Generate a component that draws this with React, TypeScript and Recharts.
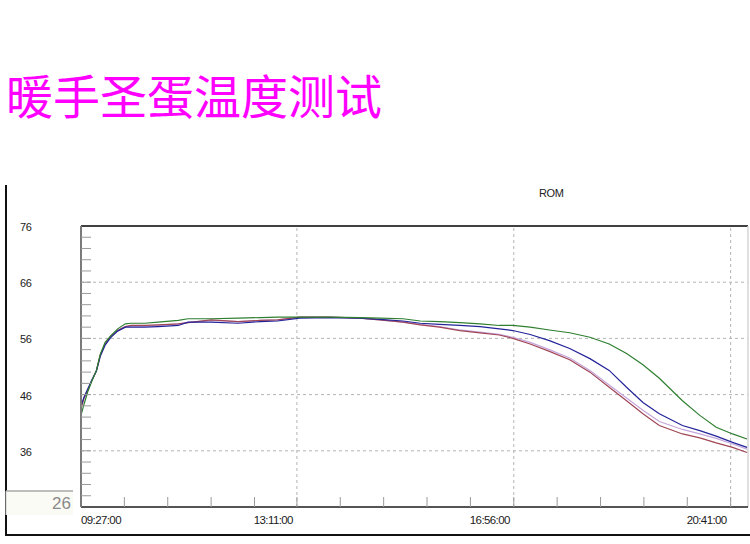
import React from "react";
import { LineChart, Line, XAxis, YAxis, ReferenceLine } from "recharts";

// time in minutes since midnight (09:27 = 567)
const timeMinutes = [567, 570, 574, 578, 583, 587, 592, 598, 605, 613, 619, 633, 647, 668, 678, 702, 730, 753, 771, 794, 825, 856, 877, 901, 919, 939, 960, 981, 1001, 1015, 1033, 1053, 1074, 1095, 1115, 1133, 1150, 1167, 1191, 1209, 1226, 1243, 1258];
const greenSeries = [42.3, 44.2, 46.5, 48.3, 50.3, 53.2, 55.3, 56.5, 57.7, 58.6, 58.7, 58.7, 58.9, 59.2, 59.5, 59.5, 59.6, 59.7, 59.8, 59.8, 59.8, 59.7, 59.6, 59.5, 59.1, 59.0, 58.8, 58.6, 58.3, 58.3, 58.0, 57.5, 57.0, 56.2, 55.0, 53.3, 51.3, 48.9, 44.9, 42.3, 40.2, 39.0, 38.1];
const blueSeries = [44.0, 45.5, 47.0, 48.5, 50.2, 52.8, 54.8, 56.2, 57.3, 58.0, 58.0, 58.0, 58.1, 58.3, 58.9, 58.9, 58.7, 59.0, 59.1, 59.6, 59.7, 59.6, 59.4, 59.1, 58.7, 58.5, 58.3, 58.1, 57.7, 57.4, 56.7, 55.6, 54.2, 52.4, 50.3, 47.3, 44.6, 42.6, 40.5, 39.6, 38.6, 37.5, 36.6];
const redSeries = [43.5, 45.3, 46.8, 48.4, 50.3, 53.0, 55.0, 56.4, 57.4, 58.1, 58.3, 58.3, 58.4, 58.6, 58.8, 59.3, 59.0, 59.2, 59.3, 59.8, 59.8, 59.6, 59.3, 58.9, 58.4, 58.0, 57.4, 57.0, 56.6, 56.0, 55.0, 53.7, 52.2, 50.0, 47.3, 44.9, 42.6, 40.5, 39.0, 38.3, 37.4, 36.6, 35.7];
const lavenderSeries = [43.6, 45.3, 46.8, 48.4, 50.3, 53.0, 55.0, 56.4, 57.4, 58.1, 58.2, 58.2, 58.3, 58.6, 58.8, 59.2, 59.0, 59.2, 59.3, 59.8, 59.8, 59.6, 59.3, 58.9, 58.5, 58.1, 57.5, 57.1, 56.7, 56.2, 55.3, 54.0, 52.5, 50.3, 47.7, 45.4, 43.2, 41.2, 39.8, 39.0, 38.2, 37.2, 36.3];

const majorTicks = [567, 791, 1016, 1241];
const majorLabels = ["09:27:00", "13:11:00", "16:56:00", "20:41:00"];
const minorTicks = [612, 657, 702, 747, 836, 881, 926, 971, 1061, 1106, 1151, 1196];
const yLabelTicks = [76, 66, 56, 46, 36, 26];
const yMinorTicks = [28, 30, 32, 34, 38, 40, 42, 44, 48, 50, 52, 54, 58, 60, 62, 64, 68, 70, 72, 74];
const yGridValues = [66, 56, 46, 36];
const xGridValues = [791, 1016, 1241];
const xDomain = [567, 1259];
const yDomain = [26, 76];

const data = timeMinutes.map((t, i) => ({
  t,
  green: greenSeries[i],
  blue: blueSeries[i],
  red: redSeries[i],
  lavender: lavenderSeries[i],
}));

const allXTicks = [...majorTicks, ...minorTicks].sort((a, b) => a - b);
const allYTicks = [...yLabelTicks, ...yMinorTicks].sort((a, b) => a - b);

const FONT = "'Liberation Sans', Arial, sans-serif";

const XTick = (props: any) => {
  const { x, y, payload } = props;
  const v = payload.value;
  const mi = majorTicks.indexOf(v);
  return (
    <g>
      {mi !== 0 && <line x1={x} y1={y} x2={x} y2={y - 10} stroke="#9a9a9a" strokeWidth={1} />}
      {mi >= 0 && (
        <text
          x={mi === 0 ? x : x - 4}
          y={y + 14}
          textAnchor={mi === 0 ? "start" : "end"}
          dominantBaseline="middle"
          fontFamily={FONT}
          fontSize={11.5}
          letterSpacing={-0.6}
          fill="#1a1a1a"
        >
          {majorLabels[mi]}
        </text>
      )}
    </g>
  );
};

const YTick = (props: any) => {
  const { x, y, payload } = props;
  const v = payload.value;
  const isLabel = yLabelTicks.includes(v);
  if (v === 26) {
    return (
      <g>
        <rect x={x - 75} y={y - 16} width={67} height={24} fill="#fbfbf6" stroke="none" />
        <line x1={x - 75} y1={y - 16} x2={x - 8} y2={y - 16} stroke="#a8a8a8" strokeWidth={1.5} />
        <line x1={x - 75} y1={y - 16} x2={x - 75} y2={y + 8} stroke="#c8c8c8" strokeWidth={1} />
        <text x={x - 10} y={y - 2} textAnchor="end" dominantBaseline="middle" fontFamily={FONT} fontSize={17} fill="#8a8a8a">
          26
        </text>
      </g>
    );
  }
  return (
    <g>
      {!yGridValues.includes(v) && v !== 76 && (
        <line x1={x} y1={y} x2={x + 10} y2={y} stroke="#9a9a9a" strokeWidth={1} />
      )}
      {yGridValues.includes(v) && <line x1={x} y1={y} x2={x + 10} y2={y} stroke="#9a9a9a" strokeWidth={1} />}
      {isLabel && (
        <text x={x - 61} y={y + 2} textAnchor="start" dominantBaseline="middle" fontFamily={FONT} fontSize={11} letterSpacing={-0.4} fill="#222">
          {v}
        </text>
      )}
    </g>
  );
};

export default function App() {
  return (
    <div style={{ position: "absolute", left: 0, top: 0, width: 750, height: 544, background: "#fff", overflow: "hidden" }}>
      <svg width={750} height={544} style={{ position: "absolute", left: 0, top: 0 }}>
        <text x={6} y={114} fontFamily="'Noto Sans CJK SC', sans-serif" fontSize={47} fill="#ff00ff">
          暖手圣蛋温度测试
        </text>
        <text x={539} y={194} dominantBaseline="middle" fontFamily={FONT} fontSize={11} letterSpacing={-0.4} fill="#222">
          ROM
        </text>
        <line x1={6} y1={185} x2={6} y2={536} stroke="#111" strokeWidth={2} />
        <line x1={5} y1={535} x2={750} y2={535} stroke="#111" strokeWidth={2} />
      </svg>
      <div style={{ position: "absolute", left: 0, top: 0 }}>
        <LineChart width={750} height={544} data={data} margin={{ top: 226, right: 2, bottom: 0, left: 0 }}>
          <XAxis
            dataKey="t"
            type="number"
            domain={xDomain}
            allowDataOverflow
            ticks={allXTicks}
            interval={0}
            height={37}
            tickSize={0}
            tickMargin={0}
            tickLine={false}
            axisLine={{ stroke: "#555", strokeWidth: 2 }}
            tick={<XTick />}
          />
          <YAxis
            type="number"
            domain={yDomain}
            allowDataOverflow
            ticks={allYTicks}
            interval={0}
            width={81}
            tickSize={0}
            tickMargin={0}
            tickLine={false}
            axisLine={{ stroke: "#7a7a7a", strokeWidth: 2 }}
            tick={<YTick />}
          />
          {yGridValues.map((v) => (
            <ReferenceLine key={"h" + v} y={v} stroke="#b4b4b4" strokeDasharray="3 3" strokeWidth={1} />
          ))}
          {xGridValues.map((v) => (
            <ReferenceLine key={"v" + v} x={v} stroke="#b4b4b4" strokeDasharray="3 3" strokeWidth={1} />
          ))}
          <ReferenceLine y={76} stroke="#000" strokeWidth={1.5} />
          <ReferenceLine x={1259} stroke="#d4d4d4" strokeWidth={1.5} />
          <Line type="linear" dataKey="lavender" stroke="#c4a6dc" strokeWidth={1.2} dot={false} isAnimationActive={false} />
          <Line type="linear" dataKey="red" stroke="#a04656" strokeWidth={1.2} dot={false} isAnimationActive={false} />
          <Line type="linear" dataKey="blue" stroke="#24249a" strokeWidth={1.2} dot={false} isAnimationActive={false} />
          <Line type="linear" dataKey="green" stroke="#2f7f30" strokeWidth={1.2} dot={false} isAnimationActive={false} />
        </LineChart>
      </div>
    </div>
  );
}
